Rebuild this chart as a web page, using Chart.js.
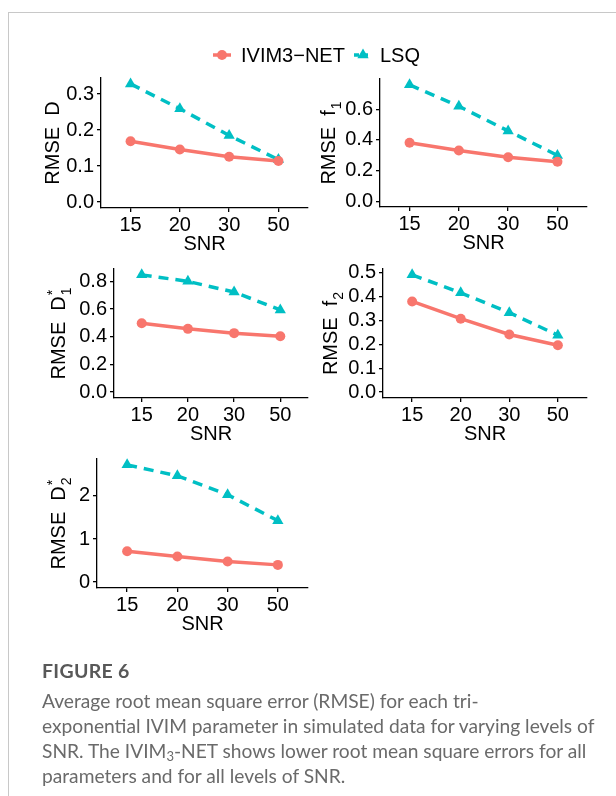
<!DOCTYPE html>
<html>
<head>
<meta charset="utf-8">
<script src="https://cdn.jsdelivr.net/npm/chart.js@4.4.1/dist/chart.umd.min.js"></script>
<style>
  body { margin: 0; background: #fff; }
  #page { position: relative; width: 616px; height: 796px; overflow: hidden; background: #fff; }
  #frame { position: absolute; left: 8px; top: 12px; right: -4px; bottom: -4px;
           border-top: 1px solid #c8c8c8; border-left: 1px solid #c8c8c8; }
  canvas.panel { position: absolute; left: 0; top: 0; pointer-events: none; }
  .cap { position: absolute; left: 42px; font-family: Lato, "Open Sans", sans-serif; color: #6a6a6a;
         font-size: 19.2px; line-height: 24px; white-space: nowrap; }
  .cap.fig { font-weight: 700; color: #585858; font-size: 19.5px; letter-spacing: 0.3px; }
  .cap sub { font-size: 13px; vertical-align: -3px; line-height: 0; }
</style>
</head>
<body>
<div id="page">
  <div id="frame"></div>
  <canvas class="panel" id="pD" width="616" height="796"></canvas>
  <canvas class="panel" id="pF1" width="616" height="796"></canvas>
  <canvas class="panel" id="pDs1" width="616" height="796"></canvas>
  <canvas class="panel" id="pF2" width="616" height="796"></canvas>
  <canvas class="panel" id="pDs2" width="616" height="796"></canvas>
  <div class="cap fig" style="top:659px">FIGURE 6</div>
  <div class="cap" style="top:689px">Average root mean square error (RMSE) for each tri-</div>
  <div class="cap" style="top:714px">exponential IVIM parameter in simulated data for varying levels of</div>
  <div class="cap" style="top:739px">SNR. The IVIM<sub>3</sub>-NET shows lower root mean square errors for all</div>
  <div class="cap" style="top:764px">parameters and for all levels of SNR.</div>
</div>
<script>
// SNR levels on the x axis
const snr = ["15", "20", "30", "50"];

// RMSE per parameter, IVIM3-NET vs least squares
const netD = [0.169, 0.146, 0.126, 0.114];
const lsqD = [0.328, 0.259, 0.185, 0.118];
const netF1 = [0.382, 0.331, 0.287, 0.257];
const lsqF1 = [0.760, 0.620, 0.459, 0.299];
const netDs1 = [0.497, 0.457, 0.426, 0.404];
const lsqDs1 = [0.847, 0.800, 0.723, 0.594];
const netF2 = [0.379, 0.307, 0.241, 0.196];
const lsqF2 = [0.490, 0.415, 0.332, 0.238];
const netDs2 = [0.716, 0.593, 0.478, 0.400];
const lsqDs2 = [2.718, 2.464, 2.025, 1.425];

// y tick values per panel
const ticksD = [0, 0.1, 0.2, 0.3];
const ticksF1 = [0, 0.2, 0.4, 0.6];
const ticksDs1 = [0, 0.2, 0.4, 0.6, 0.8];
const ticksF2 = [0, 0.1, 0.2, 0.3, 0.4, 0.5];
const ticksDs2 = [0, 1, 2];

const RED = "#F8766D";
const CYAN = "#00BFC4";
const FONT = "'Liberation Sans', Arial, sans-serif";
const W = 616, H = 796;

// area: [left, top, right, bottom] of each plot box in page pixels
const panels = [
  { id: "pD", net: netD, lsq: lsqD, ticks: ticksD, digits: 1,
    area: [101, 78, 308, 208], label: { base: "D" }, labelX: 52, legend: true },
  { id: "pF1", net: netF1, lsq: lsqF1, ticks: ticksF1, digits: 1,
    area: [380, 79, 587, 207], label: { base: "f", sub: "1" }, labelX: 328 },
  { id: "pDs1", net: netDs1, lsq: lsqDs1, ticks: ticksDs1, digits: 1,
    area: [114, 269, 308, 398], label: { base: "D", sub: "1", sup: "*" }, labelX: 58 },
  { id: "pF2", net: netF2, lsq: lsqF2, ticks: ticksF2, digits: 1,
    area: [383, 269, 587, 398], label: { base: "f", sub: "2" }, labelX: 330 },
  { id: "pDs2", net: netDs2, lsq: lsqDs2, ticks: ticksDs2, digits: 0,
    area: [97, 459, 308, 588], label: { base: "D", sub: "2", sup: "*" }, labelX: 58 },
];

function drawYTitle(ctx, x, y, t) {
  const big = "20px " + FONT;
  const small = "14px " + FONT;
  const head = "RMSE  " + t.base;
  ctx.font = big;
  const w1 = ctx.measureText(head).width;
  ctx.font = small;
  const w2 = Math.max(t.sub ? ctx.measureText(t.sub).width : 0,
                      t.sup ? ctx.measureText(t.sup).width : 0);
  const total = w1 + (w2 ? w2 + 1 : 0);
  ctx.save();
  ctx.translate(x, y);
  ctx.rotate(-Math.PI / 2);
  ctx.textAlign = "left";
  ctx.textBaseline = "alphabetic";
  ctx.font = big;
  ctx.fillText(head, -total / 2, 7);
  ctx.font = small;
  if (t.sub) ctx.fillText(t.sub, -total / 2 + w1 + 1, 13);
  if (t.sup) ctx.fillText(t.sup, -total / 2 + w1 + 1, -1);
  ctx.restore();
}

function drawLegend(ctx) {
  const y = 55;
  ctx.save();
  ctx.font = "20px " + FONT;
  ctx.textBaseline = "middle";
  ctx.textAlign = "left";
  // IVIM3-NET key
  ctx.strokeStyle = RED;
  ctx.lineWidth = 3.5;
  ctx.beginPath(); ctx.moveTo(213, y); ctx.lineTo(231, y); ctx.stroke();
  ctx.fillStyle = RED;
  Chart.helpers.drawPoint(ctx, { pointStyle: "circle", radius: 5, borderWidth: 0 }, 222, y);
  ctx.fillStyle = "#000";
  ctx.fillText("IVIM3\u2212NET", 241, y + 1);
  // LSQ key
  ctx.strokeStyle = CYAN;
  ctx.setLineDash([5, 4]);
  ctx.beginPath(); ctx.moveTo(354, y); ctx.lineTo(372, y); ctx.stroke();
  ctx.setLineDash([]);
  ctx.fillStyle = CYAN;
  Chart.helpers.drawPoint(ctx, { pointStyle: "triangle", radius: 6.5, borderWidth: 0 }, 363, y);
  ctx.fillStyle = "#000";
  ctx.fillText("LSQ", 380, y + 1);
  ctx.restore();
}

const panelText = {
  id: "panelText",
  afterDraw(chart) {
    const p = chart.options.plugins.panelText.panel;
    const a = chart.chartArea;
    const ctx = chart.ctx;
    ctx.save();
    ctx.fillStyle = "#000";
    ctx.font = "20px " + FONT;
    ctx.textAlign = "center";
    ctx.textBaseline = "middle";
    ctx.fillText("SNR", (a.left + a.right) / 2, a.bottom + 36);
    drawYTitle(ctx, p.labelX, (a.top + a.bottom) / 2, p.label);
    if (p.legend) drawLegend(ctx);
    ctx.restore();
  },
};

panels.forEach((p) => {
  const [left, top, right, bottom] = p.area;
  const peak = Math.max(...p.net, ...p.lsq);
  const axisLine = { display: true, color: "#000", width: 1.3 };
  const tickMarks = { display: true, drawOnChartArea: false, drawTicks: true,
                      tickLength: 4, color: "#000", lineWidth: 1.3 };

  new Chart(document.getElementById(p.id), {
    type: "line",
    data: {
      datasets: [
        {
          label: "IVIM3-NET",
          data: p.net.map((v, i) => ({ x: i + 1, y: v })),
          borderColor: RED,
          backgroundColor: RED,
          borderWidth: 3.5,
          pointStyle: "circle",
          pointRadius: 5,
          pointBorderWidth: 0,
          tension: 0,
          clip: false,
        },
        {
          label: "LSQ",
          data: p.lsq.map((v, i) => ({ x: i + 1, y: v })),
          borderColor: CYAN,
          backgroundColor: CYAN,
          borderWidth: 3.5,
          borderDash: [10, 7],
          pointStyle: "triangle",
          pointRadius: 6.5,
          pointBorderWidth: 0,
          tension: 0,
          clip: false,
        },
      ],
    },
    options: {
      responsive: false,
      animation: false,
      events: [],
      layout: { padding: { left: 0, top: top, right: W - right, bottom: 0 } },
      plugins: {
        legend: { display: false },
        tooltip: { enabled: false },
        panelText: { panel: p },
      },
      scales: {
        x: {
          type: "linear",
          min: 0.4,
          max: 4.6,
          border: axisLine,
          grid: tickMarks,
          afterBuildTicks: (s) => { s.ticks = snr.map((_, i) => ({ value: i + 1 })); },
          afterFit: (s) => { s.height = H - bottom; },
          ticks: {
            autoSkip: false,
            maxRotation: 0,
            padding: 1,
            color: "#000",
            font: { family: FONT, size: 20 },
            callback: (v) => snr[v - 1],
          },
        },
        y: {
          min: -0.05 * peak,
          max: 1.05 * peak,
          border: axisLine,
          grid: tickMarks,
          afterBuildTicks: (s) => { s.ticks = p.ticks.map((v) => ({ value: v })); },
          afterFit: (s) => { s.width = left; },
          ticks: {
            autoSkip: false,
            padding: 3,
            color: "#000",
            font: { family: FONT, size: 20 },
            callback: (v) => v.toFixed(p.digits),
          },
        },
      },
    },
    plugins: [panelText],
  });
});
</script>
</body>
</html>
